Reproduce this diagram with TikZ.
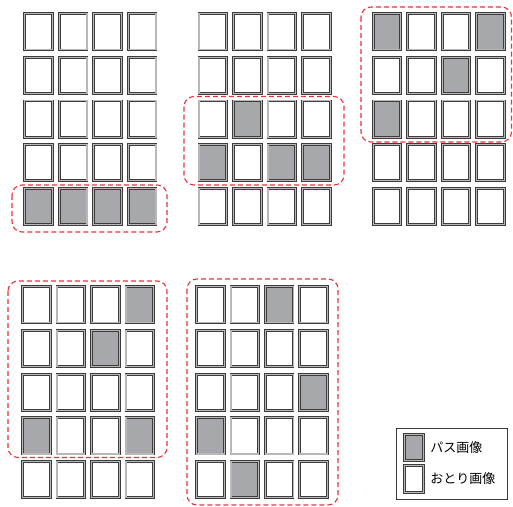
\documentclass[tikz,border=0pt]{standalone}
\usepackage{fontspec}
\newfontfamily\jpfont{Noto Sans CJK JP}
\usetikzlibrary{positioning}
\definecolor{pass}{HTML}{A7A8AC}
\colorlet{decoy}{white}
\definecolor{selred}{HTML}{E8333C}
\definecolor{rimgray}{HTML}{3C3C3C}
\tikzset{
  cell/.style={draw=rimgray, double=black!28, line width=0.85pt, double distance=1.1pt,
    minimum width=27.7pt, minimum height=36.2pt, inner sep=0pt},
  legcell/.style={cell, minimum width=19.3pt, minimum height=26.3pt},
  selbox/.style={draw=selred, dash pattern=on 5pt off 3pt, line width=1.1pt, rounded corners=10pt},
  legtext/.style={font=\jpfont\fontsize{13}{15}\selectfont, inner sep=0pt}
}

\begin{document}
\begin{tikzpicture}[x=1pt,y=-1pt]
  \useasboundingbox (0,0) rectangle (513,506);
    % panel 1: last row selected
    \foreach \r/\ca/\cb/\cc/\cd in {
      1/decoy/decoy/decoy/decoy,
      2/decoy/decoy/decoy/decoy,
      3/decoy/decoy/decoy/decoy,
      4/decoy/decoy/decoy/decoy,
      5/pass/pass/pass/pass}
      \foreach \c/\v in {1/\ca,2/\cb,3/\cc,4/\cd}
        \node[cell, fill=\v] (pa\r\c) at ({38.6+34.5*(\c-1)}, {31.8+43.6*(\r-1)}) {};
    % panel 2
    \foreach \r/\ca/\cb/\cc/\cd in {
      1/decoy/decoy/decoy/decoy,
      2/decoy/decoy/decoy/decoy,
      3/decoy/pass/decoy/decoy,
      4/pass/decoy/pass/pass,
      5/decoy/decoy/decoy/decoy}
      \foreach \c/\v in {1/\ca,2/\cb,3/\cc,4/\cd}
        \node[cell, fill=\v] (pb\r\c) at ({212.8+34.5*(\c-1)}, {31.8+43.6*(\r-1)}) {};
    % panel 3
    \foreach \r/\ca/\cb/\cc/\cd in {
      1/pass/decoy/decoy/pass,
      2/decoy/decoy/pass/decoy,
      3/pass/decoy/decoy/decoy,
      4/decoy/decoy/decoy/decoy,
      5/decoy/decoy/decoy/decoy}
      \foreach \c/\v in {1/\ca,2/\cb,3/\cc,4/\cd}
        \node[cell, fill=\v] (pc\r\c) at ({387+34.5*(\c-1)}, {31.8+43.6*(\r-1)}) {};
    % panel 4
    \foreach \r/\ca/\cb/\cc/\cd in {
      1/decoy/decoy/decoy/pass,
      2/decoy/decoy/pass/decoy,
      3/decoy/decoy/decoy/decoy,
      4/pass/decoy/decoy/pass,
      5/decoy/decoy/decoy/decoy}
      \foreach \c/\v in {1/\ca,2/\cb,3/\cc,4/\cd}
        \node[cell, fill=\v] (pd\r\c) at ({36.3+34.5*(\c-1)}, {304.8+43.7*(\r-1)}) {};
    % panel 5
    \foreach \r/\ca/\cb/\cc/\cd in {
      1/decoy/decoy/pass/decoy,
      2/decoy/decoy/decoy/decoy,
      3/decoy/decoy/decoy/pass,
      4/pass/decoy/decoy/decoy,
      5/decoy/pass/decoy/decoy}
      \foreach \c/\v in {1/\ca,2/\cb,3/\cc,4/\cd}
        \node[cell, fill=\v] (pe\r\c) at ({210.4+34.4*(\c-1)}, {304.8+43.7*(\r-1)}) {};

    % selections
    \draw[selbox] (12,185) rectangle (167,232);
    \draw[selbox] (184,96.5) rectangle (344,185);
    \draw[selbox] (361,7) rectangle (511.5,142);
    \draw[selbox] (8,281) rectangle (167,457.5);
    \draw[selbox] (187,279) rectangle (338,505);

    % legend
    \draw[rimgray, line width=0.8pt] (396,428) rectangle (507,499);
    \node[legcell, fill=pass] (leg-pass) at (414,447.5) {};
    \node[legcell, fill=decoy] (leg-decoy) at (414,479) {};
    \node[legtext, right=6pt of leg-pass] {パス画像};
    \node[legtext, right=6pt of leg-decoy] {おとり画像};
  \end{tikzpicture}
\end{document}
